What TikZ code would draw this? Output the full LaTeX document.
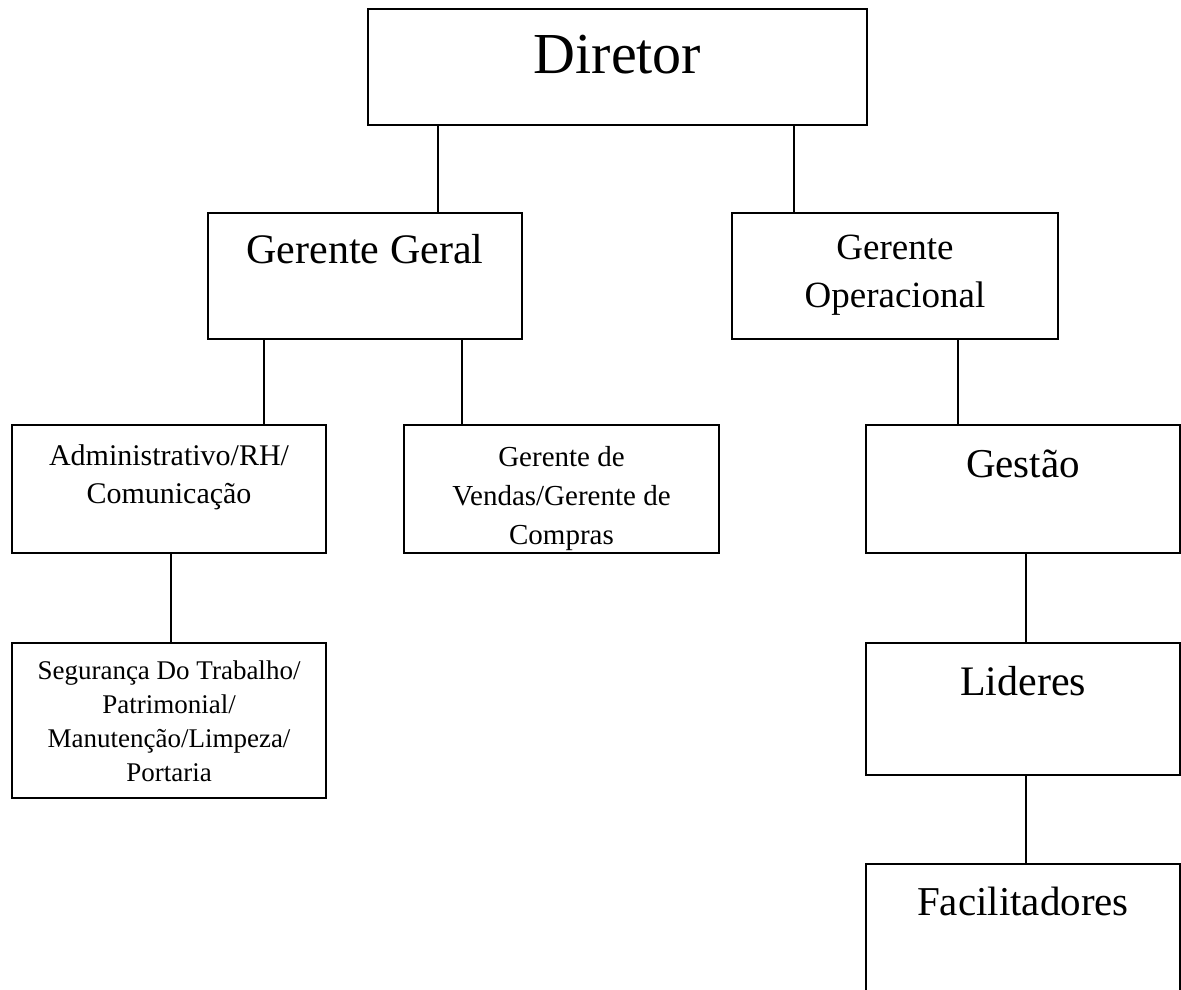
\documentclass[tikz,border=0pt]{standalone}
\usepackage{fontspec}
\setmainfont{Liberation Serif}
\tikzset{
  orgbox/.style={draw, line width=1.6pt, outer sep=0pt, inner sep=0pt, fill=white},
  lbl/.style={anchor=north, inner sep=0pt, align=center, text=black},
  link/.style={draw, line width=1.6pt}
}
\newcommand{\fs}[2]{\fontsize{#1}{#2}\selectfont}
\begin{document}
\begin{tikzpicture}[x=1pt,y=-1pt]
\clip (0,0) rectangle (1181,989);
\fill[white] (0,0) rectangle (1181,989);

% boxes
\node[orgbox, minimum width=499pt, minimum height=116pt] (dir) at (617.5,67) {};
\node[orgbox, minimum width=314pt, minimum height=126pt] (gg)  at (365,276) {};
\node[orgbox, minimum width=326pt, minimum height=126pt] (go)  at (895,276) {};
\node[orgbox, minimum width=314pt, minimum height=128pt] (adm) at (169,489) {};
\node[orgbox, minimum width=315pt, minimum height=128pt] (ven) at (561.5,489) {};
\node[orgbox, minimum width=314pt, minimum height=128pt] (ges) at (1023,489) {};
\node[orgbox, minimum width=314pt, minimum height=155pt] (seg) at (169,720.5) {};
\node[orgbox, minimum width=314pt, minimum height=132pt] (lid) at (1023,709) {};
\node[orgbox, minimum width=314pt, minimum height=146pt] (fac) at (1023,937) {};

% labels
\node[lbl, font={\fs{58}{66}}] (tdir) at (617.5,35) {Diretor};
\node[lbl, font={\fs{42}{50}}] (tgg) at (365,234) {Gerente Geral};
\node[lbl, font={\fs{37}{48}}] (tgo) at (895,235) {Gerente\\Operacional};
\node[lbl, font={\fs{30}{38}}] (tadm) at (169,444) {Administrativo/RH/\\Comunicação};
\begin{scope}
\clip (ven.south west) rectangle (ven.north east);
\node[lbl, font={\fs{29}{39}}] (tven) at (561.5,446) {Gerente de\\Vendas/Gerente de\\Compras};
\end{scope}
\node[lbl, font={\fs{41}{48}}] (tges) at (1023,450) {Gestão};
\node[lbl, font={\fs{27}{34}}] (tseg) at (169,661) {Segurança Do Trabalho/\\Patrimonial/\\Manutenção/Limpeza/\\Portaria};
\node[lbl, font={\fs{42}{48}}] (tlid) at (1023,666) {Lideres};
\node[lbl, font={\fs{41}{48}}] (tfac) at (1023,887) {Facilitadores};

% connectors
\draw[link] (dir.south west) ++(70,0) coordinate (c1) -- (c1 |- gg.north);
\draw[link] (dir.south west) ++(426,0) coordinate (c2) -- (c2 |- go.north);
\draw[link] (gg.south west) ++(56,0) coordinate (c3) -- (c3 |- adm.north);
\draw[link] (gg.south west) ++(254,0) coordinate (c4) -- (c4 |- ven.north);
\draw[link] (go.south west) ++(226,0) coordinate (c5) -- (c5 |- ges.north);
\draw[link] (adm.south west) ++(159,0) coordinate (c6) -- (c6 |- seg.north);
\draw[link] (ges.south west) ++(160,0) coordinate (c7) -- (c7 |- lid.north);
\draw[link] (lid.south west) ++(160,0) coordinate (c8) -- (c8 |- fac.north);
\end{tikzpicture}
\end{document}
